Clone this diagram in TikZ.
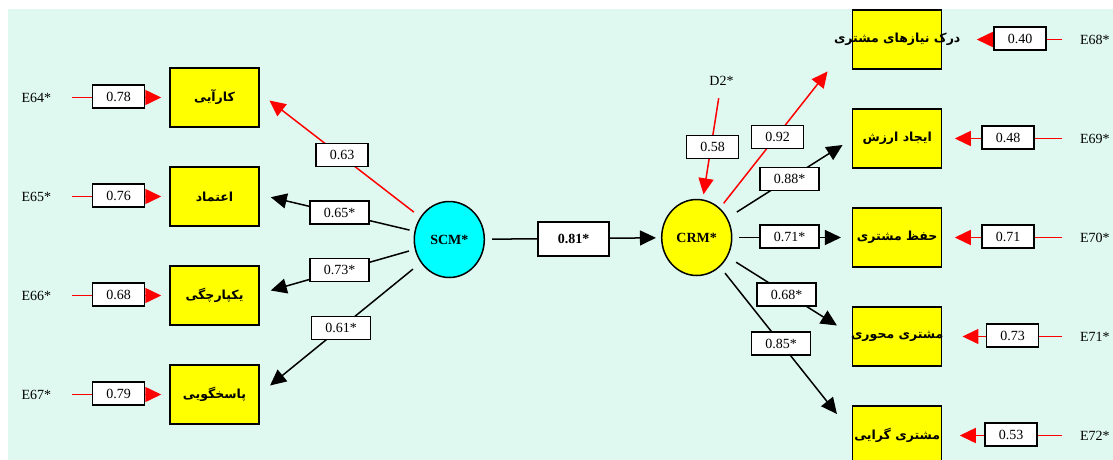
\documentclass[tikz,border=0pt]{standalone}
\usepackage{fontspec}
\setmainfont{Liberation Serif}
\newfontfamily\fafont[Script=Arabic]{DejaVu Sans}
\TeXXeTstate=1
\usetikzlibrary{arrows.meta,shapes.geometric}
\definecolor{bgmint}{RGB}{223,249,241}
\definecolor{pyellow}{RGB}{255,255,0}
\definecolor{pcyan}{RGB}{0,255,255}

\begin{document}
\begin{tikzpicture}[x=1pt,y=-1pt,
  ind/.style={draw=black, line width=1.5pt, fill=pyellow, minimum width=89pt,
    minimum height=59pt, inner sep=0pt, font=\fafont\bfseries\fontsize{12.5}{14}\selectfont},
  lat/.style={ellipse, draw=black, line width=1.5pt, minimum width=70pt,
    minimum height=76pt, inner sep=0pt, font=\bfseries\fontsize{14}{16}\selectfont},
  err/.style={inner sep=0pt, font=\fontsize{14}{16}\selectfont},
  val/.style={draw=black, line width=1.5pt, fill=white, minimum width=52pt,
    minimum height=23pt, inner sep=0pt, font=\fontsize{14}{16}\selectfont},
  valst/.style={val, minimum width=59pt},
  valbold/.style={val, minimum width=71pt, minimum height=34pt,
    font=\bfseries\fontsize{14}{16}\selectfont},
  blk/.style={draw=black, line width=1.5pt, -{Triangle[length=16pt,width=15pt]}},
  redarr/.style={draw=red, color=red, line width=1.5pt, -{Triangle[length=16pt,width=15pt]}},
]
\clip (0,0) rectangle (1113,460);
\useasboundingbox (0,0) rectangle (1113,460);
\fill[bgmint] (8,9) rectangle (1113,460);

% indicator boxes (text may run past the box edge without widening it)
\node[ind] (k1) at (214.5,97.5)  {\beginR کارآیی\endR};
\node[ind] (k2) at (214.5,196.5) {\beginR اعتماد\endR};
\node[ind] (k3) at (214.5,295.5) {\beginR یکپارچگی\endR};
\node[ind] (k4) at (214.5,394.5) {\beginR پاسخگویی\endR};
\node[ind] (m1) at (897.2,39.5)  {\makebox[0pt][c]{\beginR درک نیازهای مشتری\endR}};
\node[ind] (m2) at (897.2,138.5) {\beginR ایجاد ارزش\endR};
\node[ind] (m3) at (897.2,237.5) {\beginR حفظ مشتری\endR};
\node[ind] (m4) at (897.2,336.5) {\makebox[0pt][c]{\beginR مشتری محوری\endR}};
\node[ind] (m5) at (897.2,435.5) {\makebox[0pt][c]{\beginR مشتری گرایی\endR}};

% latent factors
\node[lat, fill=pcyan]   (scm) at (449.3,239.5) {SCM*};
\node[lat, fill=pyellow] (crm) at (696.7,237.5) {CRM*};

% error and disturbance terms
\node[err] (e64) at (36.3,97.5)  {E64*};
\node[err] (e65) at (36.3,196.5) {E65*};
\node[err] (e66) at (36.3,295.5) {E66*};
\node[err] (e67) at (36.3,394.5) {E67*};
\node[err] (e68) at (1094.8,39.5)  {E68*};
\node[err] (e69) at (1094.8,138.5) {E69*};
\node[err] (e70) at (1094.8,237.5) {E70*};
\node[err] (e71) at (1094.8,336.5) {E71*};
\node[err] (e72) at (1094.8,435.5) {E72*};
\node[err] (d2)  at (721.5,80.5)   {D2*};

% error paths
\foreach \e/\k in {e64/k1,e65/k2,e66/k3,e67/k4}
  \draw[redarr, shorten <=21pt, shorten >=8pt] (\e) -- (\k);
\draw[redarr, shorten <=18pt, shorten >=34.3pt] (e68) -- (m1);
\draw[redarr, shorten <=18pt, shorten >=12.3pt] (e69) -- (m2);
\draw[redarr, shorten <=18pt, shorten >=12.3pt] (e70) -- (m3);
\draw[redarr, shorten <=18pt, shorten >=20pt]   (e71) -- (m4);
\draw[redarr, shorten <=18pt, shorten >=17.3pt] (e72) -- (m5);
\draw[redarr, shorten <=13pt, shorten >=5pt] (d2) -- (crm);

% loadings of SCM
\draw[redarr, shorten <=8pt]  (scm) -- ([shift={(9.7,3)}]k1.east);
\draw[blk,    shorten <=5pt]  (scm) -- ([shift={(11,0.7)}]k2.east);
\draw[blk,    shorten <=6pt]  (scm) -- ([shift={(11,-5)}]k3.east);
\draw[blk,    shorten <=10pt] (scm) -- ([shift={(10.3,-9)}]k4.east);

% structural path
\draw[blk, shorten <=7pt, shorten >=5pt] (scm) -- (crm);

% loadings of CRM
\draw[redarr, shorten <=6pt]  (crm) -- ([shift={(-24.4,1.7)}]m1.south west);
\draw[blk,    shorten <=11pt] (crm) -- ([shift={(-9.4,6.5)}]m2.west);
\draw[blk,    shorten <=7pt]  (crm) -- ([shift={(-11,0)}]m3.west);
\draw[blk,    shorten <=10pt] (crm) -- ([shift={(-15,-11)}]m4.west);
\draw[blk,    shorten <=8pt]  (crm) -- ([shift={(-15,-21.5)}]m5.west);

% coefficient labels
\node[val] (v64) at (118.5,96.5)  {0.78};
\node[val] (v65) at (118.5,195.5) {0.76};
\node[val] (v66) at (118.5,294.5) {0.68};
\node[val] (v67) at (118.5,393.5) {0.79};
\node[val] (v68) at (1020,38.5)    {0.40};
\node[val] (v69) at (1008,137.5)   {0.48};
\node[val] (v70) at (1008,236.5)   {0.71};
\node[val] (v71) at (1012.5,335.5) {0.73};
\node[val] (v72) at (1011,434.5)   {0.53};
\node[val] (vd2) at (712.5,147)    {0.58};

\node[val]   (s1) at (342,155)     {0.63};
\node[valst] (s2) at (339.5,212.5) {0.65*};
\node[valst] (s3) at (339.5,270)   {0.73*};
\node[valst] (s4) at (341,328)     {0.61*};

\node[valbold] (b1) at (573.5,239) {0.81*};

\node[val]   (c1) at (777.5,137)   {0.92};
\node[valst] (c2) at (789.5,179)   {0.88*};
\node[valst] (c3) at (789.5,236.5) {0.71*};
\node[valst] (c4) at (786.5,294.5) {0.68*};
\node[valst] (c5) at (781,343.5)   {0.85*};
\end{tikzpicture}
\end{document}
